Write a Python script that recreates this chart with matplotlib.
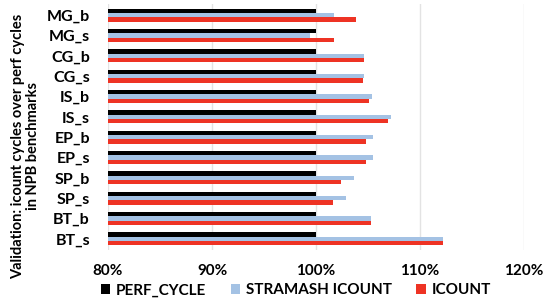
import matplotlib.pyplot as plt
import numpy as np

# --- Dane (od dolu do gory) ---
benchmarki = ["BT_s", "BT_b", "SP_s", "SP_b", "EP_s", "EP_b",
              "IS_s", "IS_b", "CG_s", "CG_b", "MG_s", "MG_b"]
perf_cycle = [100.0] * 12
stramash_icount = [112.2, 105.3, 102.85, 103.65, 105.5, 105.45,
                   107.2, 105.4, 104.65, 104.6, 99.4, 101.7]
icount = [112.25, 105.3, 101.65, 102.4, 104.85, 104.8,
          106.95, 105.1, 104.5, 104.6, 101.7, 103.8]

x_ticks = [80, 90, 100, 110, 120]

plt.rcParams['font.family'] = ['Lato', 'DejaVu Sans']
plt.rcParams['font.weight'] = 'bold'

fig = plt.figure(figsize=(5.43, 3.01), dpi=100)
ax = fig.add_axes([108 / 543, 1 - 250 / 301, 416 / 543, 246 / 301])

y = np.arange(len(benchmarki))
h = 0.21
base = 80
ax.barh(y + h, np.array(perf_cycle) - base, left=base, height=h,
        color='black', label='PERF_CYCLE', zorder=3)
ax.barh(y, np.array(stramash_icount) - base, left=base, height=h,
        color='#a4c2e4', label='STRAMASH ICOUNT', zorder=3)
ax.barh(y - h, np.array(icount) - base, left=base, height=h,
        color='#ee3324', label='ICOUNT', zorder=3)

ax.set_xlim(80, 120)
ax.set_ylim(-0.55, len(benchmarki) - 0.45)
ax.set_xticks(x_ticks)
ax.set_xticklabels([f"{v}%" for v in x_ticks], fontsize=11, fontweight='bold')
ax.set_yticks(y)
ax.set_yticklabels(benchmarki, fontsize=11.5, fontweight='bold')
ax.tick_params(axis='both', length=0)
ax.tick_params(axis='y', pad=13)
ax.tick_params(axis='x', pad=10)
ax.grid(axis='x', color='#e3e3e3', linewidth=1, zorder=0)
for s in ax.spines.values():
    s.set_visible(False)

fig.text(0.047, 0.515, "Validation: icount cycles over perf cycles\nin NPB benchmarks",
         rotation=90, ha='center', va='center', fontsize=10.5, fontweight='bold',
         linespacing=1.15)

fig.legend(loc='center', bbox_to_anchor=(0.545, 0.035), ncol=3, frameon=False,
           handlelength=0.6, handleheight=0.6, columnspacing=1.6,
           handletextpad=0.4, prop={'weight': 'bold', 'size': 11})

fig.savefig("out.png", dpi=100)
